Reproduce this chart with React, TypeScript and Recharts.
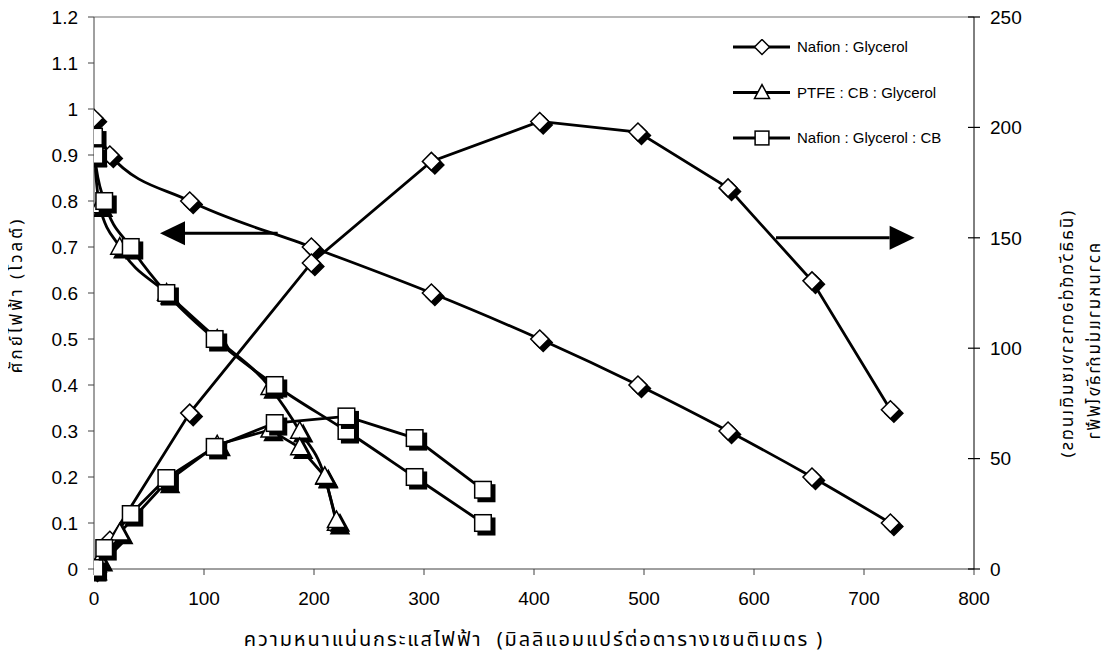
import { Legend, Line, LineChart, ReferenceLine, XAxis, YAxis } from "recharts";

// current density (mA/cm2), voltage (V), power density (mW/cm2)
const nafionI = [0, 14.4, 87, 197.6, 306.7, 405.2, 494.5, 576.4, 652.7, 724];
const nafionV = [0.98, 0.9, 0.8, 0.7, 0.6, 0.5, 0.4, 0.3, 0.2, 0.1];
const nafionP = [0, 13, 70.6, 138.6, 184.6, 202.7, 197.9, 172.6, 130.5, 72.1];

const ptfeI = [0, 5, 23.4, 66, 112, 160, 187, 209.8, 220.4];
const ptfeV = [0.9, 0.79, 0.7, 0.6, 0.5, 0.395, 0.3, 0.2, 0.1];
const ptfeP = [0, 4, 16.4, 39.5, 56.3, 63, 55, 42, 22];

const cbI = [0, 0.5, 9.3, 33.4, 65.8, 109.7, 164.3, 229.5, 291.5, 353.6];
const cbV = [0.94, 0.9, 0.8, 0.7, 0.6, 0.5, 0.4, 0.3, 0.2, 0.1];
const cbP = [0, 0.45, 9.5, 24.9, 41.2, 55.3, 66.1, 69.1, 59.3, 35.9];

const seriesNames = ["Nafion : Glycerol", "PTFE : CB : Glycerol", "Nafion : Glycerol : CB"];

const xTicks = [0, 100, 200, 300, 400, 500, 600, 700, 800];
const voltTicks = [0, 0.1, 0.2, 0.3, 0.4, 0.5, 0.6, 0.7, 0.8, 0.9, 1, 1.1, 1.2];
const powerTicks = [0, 50, 100, 150, 200, 250];

// arrows: [tail, tip] in data units
const voltArrow = [{ x: 167, y: 0.73 }, { x: 60, y: 0.73 }];
const powerArrow = [{ x: 620, y: 150 }, { x: 746, y: 150 }];

const xTitle = "ความหนาแน่นกระแสไฟฟ้า  (มิลลิแอมแปร์ต่อตารางเซนติเมตร )";
const voltTitle = "ศักย์ไฟฟ้า (โวลต์)";
const powerTitle1 = "ความหนาแน่นกำลังไฟฟ้า";
const powerTitle2 = "(มิลลิวัตต์ต่อตารางเซนติเมตร)";

const zip = (xs: number[], ys: number[]) => xs.map((i, k) => ({ i, val: ys[k] }));

const NUM_FONT = "'Liberation Sans', Arial, sans-serif";
const THAI_FONT = "'Noto Sans Thai', 'Liberation Sans', sans-serif";

type Kind = "diamond" | "triangle" | "square";

const Shape = ({ kind, cx, cy, s, fill }: { kind: Kind; cx: number; cy: number; s: number; fill: string }) => {
  if (kind === "diamond") {
    return (
      <polygon
        points={`${cx},${cy - s} ${cx + s},${cy} ${cx},${cy + s} ${cx - s},${cy}`}
        fill={fill}
        stroke="#000"
        strokeWidth={1.5}
      />
    );
  }
  if (kind === "square") {
    const h = s * 0.92;
    return <rect x={cx - h} y={cy - h} width={h * 2} height={h * 2} fill={fill} stroke="#000" strokeWidth={1.5} />;
  }
  return (
    <polygon
      points={`${cx},${cy - s * 1.05} ${cx + s},${cy + s * 0.8} ${cx - s},${cy + s * 0.8}`}
      fill={fill}
      stroke="#000"
      strokeWidth={1.5}
    />
  );
};

const makeDot = (kind: Kind, id: string) => (p: any) => {
  if (p.cx == null || p.cy == null) return <g key={`${id}-${p.index}`} />;
  return (
    <g key={`${id}-${p.index}`}>
      <Shape kind={kind} cx={p.cx + 3.5} cy={p.cy + 3.5} s={9} fill="#000" />
      <Shape kind={kind} cx={p.cx} cy={p.cy} s={9} fill="#fff" />
    </g>
  );
};

const arrowShape = (p: any) => {
  const { x1, y1, x2, y2 } = p;
  const dir = x2 > x1 ? 1 : -1;
  const base = x2 - dir * 25;
  return (
    <g>
      <line x1={x1} y1={y1} x2={base} y2={y2} stroke="#000" strokeWidth={3} />
      <polygon points={`${x2},${y2} ${base},${y2 - 12} ${base},${y2 + 12}`} fill="#000" />
    </g>
  );
};

const kinds: Kind[] = ["diamond", "triangle", "square"];

const LegendBox = () => (
  <svg width={280} height={120} style={{ display: "block" }}>
    {seriesNames.map((name, k) => {
      const y = 8 + k * 45.5;
      return (
        <g key={name}>
          <line x1={0} y1={y} x2={57} y2={y} stroke="#000" strokeWidth={3} />
          <Shape kind={kinds[k]} cx={29} cy={y} s={7.5} fill="#fff" />
          <text x={64} y={y} dy="0.36em" fontSize={15} fontFamily={NUM_FONT} fill="#000">
            {name}
          </text>
        </g>
      );
    })}
  </svg>
);

const RightTick = (p: any) => {
  const ax = p.x - 16;
  return (
    <g>
      <line x1={ax - 6} y1={p.y} x2={ax + 6} y2={p.y} stroke="#000" strokeWidth={1.2} />
      <text x={p.x} y={p.y} dy="0.36em" textAnchor="start" fontSize={19} fontFamily={NUM_FONT} fill="#000">
        {p.payload.value}
      </text>
    </g>
  );
};

const App = () => {
  return (
    <div style={{ margin: "-8px 0 0 -8px" }}>
      <LineChart width={1109} height={655} margin={{ top: 17, right: 0, bottom: 0, left: 0 }}>
        <XAxis
          type="number"
          dataKey="i"
          domain={[0, 800]}
          ticks={xTicks}
          allowDataOverflow
          stroke="#404040"
          tickSize={6}
          tickMargin={17}
          height={86}
          tick={{ fill: "#000", fontSize: 19, fontFamily: NUM_FONT }}
          label={{
            content: ({ viewBox }: any) => (
              <text
                x={viewBox.x + viewBox.width / 2}
                y={viewBox.y + 71}
                textAnchor="middle"
                dominantBaseline="central"
                fontSize={20}
                letterSpacing={1.9}
                fontFamily={THAI_FONT}
                fill="#000"
                style={{ whiteSpace: "pre" }}
              >
                {xTitle}
              </text>
            ),
          }}
        />
        <YAxis
          yAxisId="v"
          domain={[0, 1.2]}
          ticks={voltTicks}
          width={94}
          stroke="#404040"
          tickSize={6}
          tickMargin={10}
          tickFormatter={(v: number) => String(Number(v.toFixed(1)))}
          tick={{ fill: "#000", fontSize: 19, fontFamily: NUM_FONT }}
          label={{
            content: ({ viewBox }: any) => {
              const x = viewBox.x + 17;
              const y = viewBox.y + 278;
              return (
                <text
                  x={x}
                  y={y}
                  transform={`rotate(-90 ${x} ${y})`}
                  textAnchor="middle"
                  dominantBaseline="central"
                  fontSize={17}
                  letterSpacing={3}
                  fontFamily={THAI_FONT}
                  fill="#000"
                >
                  {voltTitle}
                </text>
              );
            },
          }}
        />
        <YAxis
          yAxisId="p"
          orientation="right"
          domain={[0, 250]}
          ticks={powerTicks}
          width={135}
          stroke="#000"
          tickLine={false}
          tickSize={8}
          tickMargin={8}
          tick={RightTick}
          label={{
            content: ({ viewBox }: any) => {
              const y = viewBox.y + 318;
              const x1 = viewBox.x + 94;
              const x2 = viewBox.x + 121;
              return (
                <g fontSize={17} fontFamily={THAI_FONT} fill="#000" letterSpacing={2}>
                  <text
                    transform={`translate(${x1} ${y}) rotate(90) scale(1 -1)`}
                    textAnchor="middle"
                    dominantBaseline="central"
                  >
                    {powerTitle2}
                  </text>
                  <text
                    transform={`translate(${x2} ${y + 7}) rotate(90) scale(1 -1)`}
                    textAnchor="middle"
                    dominantBaseline="central"
                  >
                    {powerTitle1}
                  </text>
                </g>
              );
            },
          }}
        />
        <ReferenceLine yAxisId="v" y={1.2} stroke="#a0a0a0" strokeWidth={1.5} />
        <ReferenceLine yAxisId="v" segment={voltArrow} shape={arrowShape} ifOverflow="visible" />
        <ReferenceLine yAxisId="p" segment={powerArrow} shape={arrowShape} ifOverflow="visible" />

        <Line yAxisId="v" data={zip(nafionI, nafionV)} dataKey="val" type="monotone" stroke="#000" strokeWidth={2.8}
          dot={makeDot("diamond", "nv")} activeDot={false} isAnimationActive={false} legendType="none" />
        <Line yAxisId="v" data={zip(ptfeI, ptfeV)} dataKey="val" type="monotone" stroke="#000" strokeWidth={2.8}
          dot={makeDot("triangle", "tv")} activeDot={false} isAnimationActive={false} legendType="none" />
        <Line yAxisId="v" data={zip(cbI, cbV)} dataKey="val" type="monotone" stroke="#000" strokeWidth={2.8}
          dot={makeDot("square", "sv")} activeDot={false} isAnimationActive={false} legendType="none" />
        <Line yAxisId="p" data={zip(nafionI, nafionP)} dataKey="val" type="linear" stroke="#000" strokeWidth={2.8}
          dot={makeDot("diamond", "np")} activeDot={false} isAnimationActive={false} legendType="none" />
        <Line yAxisId="p" data={zip(ptfeI, ptfeP)} dataKey="val" type="linear" stroke="#000" strokeWidth={2.8}
          dot={makeDot("triangle", "tp")} activeDot={false} isAnimationActive={false} legendType="none" />
        <Line yAxisId="p" data={zip(cbI, cbP)} dataKey="val" type="linear" stroke="#000" strokeWidth={2.8}
          dot={makeDot("square", "sp")} activeDot={false} isAnimationActive={false} legendType="none" />

        <Legend
          layout="vertical"
          align="center"
          verticalAlign="middle"
          content={() => <LegendBox />}
          wrapperStyle={{ left: 733, top: 39, width: 280 }}
        />
      </LineChart>
    </div>
  );
};

export default App;
